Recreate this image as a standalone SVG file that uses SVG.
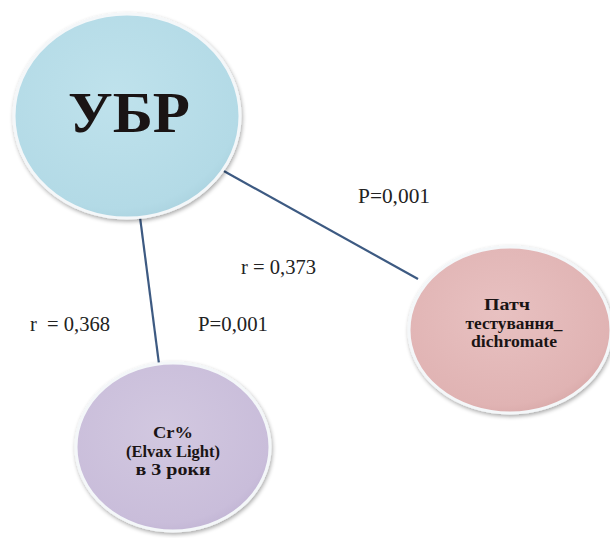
<svg xmlns="http://www.w3.org/2000/svg" width="610" height="538" viewBox="0 0 610 538">
  <defs>
    <radialGradient id="gBlue" cx="0.45" cy="0.4" r="0.65">
      <stop offset="0" stop-color="#bfe2ec"/>
      <stop offset="0.85" stop-color="#b3dae6"/>
      <stop offset="1" stop-color="#a8d0dd"/>
    </radialGradient>
    <radialGradient id="gPink" cx="0.45" cy="0.4" r="0.65">
      <stop offset="0" stop-color="#e8c1c1"/>
      <stop offset="0.85" stop-color="#e0b3b3"/>
      <stop offset="1" stop-color="#d6a6a6"/>
    </radialGradient>
    <radialGradient id="gPurple" cx="0.45" cy="0.4" r="0.65">
      <stop offset="0" stop-color="#d2c8e0"/>
      <stop offset="0.85" stop-color="#c9bdda"/>
      <stop offset="1" stop-color="#bfb2d2"/>
    </radialGradient>
    <filter id="sh" x="-10%" y="-10%" width="125%" height="125%">
      <feGaussianBlur in="SourceAlpha" stdDeviation="2"/>
      <feOffset dx="1" dy="2" result="b"/>
      <feComponentTransfer><feFuncA type="linear" slope="0.35"/></feComponentTransfer>
      <feMerge><feMergeNode/><feMergeNode in="SourceGraphic"/></feMerge>
    </filter>
  </defs>
  <style>
    .edge { stroke: #3d5a82; stroke-width: 2.2; fill: none; }
    .rim { stroke: #f4f7f9; stroke-width: 3; }
    .lbl { font-size: 20px; fill: #222; }
    .nt { font-weight: bold; fill: #1a1414; text-anchor: middle; }
  </style>
  <rect width="610" height="538" fill="#ffffff"/>
  <g id="connectors">
    <line class="edge" x1="222" y1="170" x2="418" y2="279"/>
    <line class="edge" x1="140" y1="217" x2="159" y2="364"/>
  </g>
  <g id="node-ubr">
    <ellipse cx="127" cy="116" rx="113" ry="102" fill="url(#gBlue)" class="rim" filter="url(#sh)"/>
    <text class="nt" x="129" y="132" font-size="57" font-family="Liberation Serif, DejaVu Serif, serif" textLength="122" lengthAdjust="spacingAndGlyphs">УБР</text>
  </g>
  <g id="node-patch">
    <ellipse cx="510" cy="330" rx="101" ry="83" fill="url(#gPink)" class="rim" filter="url(#sh)"/>
    <g font-family="Liberation Serif, DejaVu Serif, serif" font-size="16.8">
      <text class="nt" x="507" y="310" textLength="46" lengthAdjust="spacingAndGlyphs">Патч</text>
      <text class="nt" x="514" y="328.6" textLength="97" lengthAdjust="spacingAndGlyphs">тестування_</text>
      <text class="nt" x="514" y="347.2" textLength="86" lengthAdjust="spacingAndGlyphs">dichromate</text>
    </g>
  </g>
  <g id="node-cr">
    <ellipse cx="173" cy="447" rx="97" ry="84" fill="url(#gPurple)" class="rim" filter="url(#sh)"/>
    <g font-family="Liberation Serif, DejaVu Serif, serif" font-size="16.8">
      <text class="nt" x="173" y="438" textLength="40" lengthAdjust="spacingAndGlyphs">Cr%</text>
      <text class="nt" x="173" y="456.6" textLength="94" lengthAdjust="spacingAndGlyphs">(Elvax Light)</text>
      <text class="nt" x="173" y="475.2" textLength="75" lengthAdjust="spacingAndGlyphs">в 3 роки</text>
    </g>
  </g>
  <g id="labels" font-family="Liberation Serif, DejaVu Serif, serif">
    <text class="lbl" x="358" y="203" textLength="72" lengthAdjust="spacingAndGlyphs">P=0,001</text>
    <text class="lbl" x="241" y="274" textLength="75" lengthAdjust="spacingAndGlyphs">r = 0,373</text>
    <text class="lbl" x="30" y="331" xml:space="preserve" textLength="80" lengthAdjust="spacingAndGlyphs">r  = 0,368</text>
    <text class="lbl" x="198" y="331" textLength="70" lengthAdjust="spacingAndGlyphs">P=0,001</text>
  </g>
</svg>
